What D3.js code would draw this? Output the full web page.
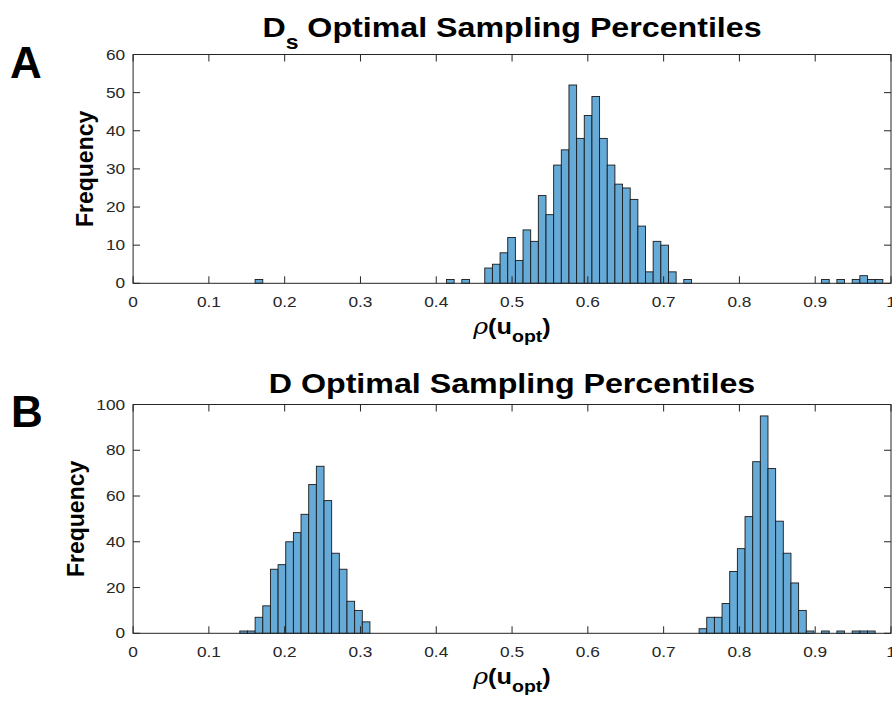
<!DOCTYPE html>
<html>
<head>
<meta charset="utf-8">
<script src="https://cdn.jsdelivr.net/npm/d3@7"></script>
<style>
  body { margin: 0; background: #fff; }
  svg { display: block; font-family: "Liberation Sans", Arial, Helvetica, sans-serif; }
</style>
</head>
<body>
<svg id="svg0" width="892" height="704"></svg>
<script>
// histogram bins (width is the same for both panels)
var binWidth = 0.0101;

// panel A: Ds optimal sampling percentiles
var dsStart = 0.161;
var dsCounts = [1, 0, 0, 0, 0, 0, 0, 0, 0, 0, 0, 0, 0, 0, 0, 0, 0, 0, 0, 0,
  0, 0, 0, 0, 0, 1, 0, 1, 0, 0, 4, 5, 8, 12, 6, 14, 11, 23, 18, 31,
  35, 52, 38, 44, 49, 38, 31, 26, 25, 22, 15, 3, 11, 10, 3, 0, 1, 0, 0, 0,
  0, 0, 0, 0, 0, 0, 0, 0, 0, 0, 0, 0, 0, 0, 1, 0, 1, 0, 1, 2,
  1, 1];

// panel B: D optimal sampling percentiles
var dStart = 0.1408;
var dCounts = [1, 1, 7, 12, 28, 30, 40, 44, 52, 65, 73, 58, 35, 28, 14, 10, 5, 0, 0, 0,
  0, 0, 0, 0, 0, 0, 0, 0, 0, 0, 0, 0, 0, 0, 0, 0, 0, 0, 0, 0,
  0, 0, 0, 0, 0, 0, 0, 0, 0, 0, 0, 0, 0, 0, 0, 0, 0, 0, 0, 0,
  2, 7, 7, 13, 27, 37, 51, 75, 95, 72, 49, 35, 22, 10, 1, 0, 1, 0, 1, 0,
  1, 1, 1];

var xTicks = [0, 0.1, 0.2, 0.3, 0.4, 0.5, 0.6, 0.7, 0.8, 0.9, 1];
var dsYTicks = [0, 10, 20, 30, 40, 50, 60];
var dYTicks = [0, 20, 40, 60, 80, 100];

var axisColor = '#262626';
var barFill = '#66aad7';
var stretch = 1.15;

var svg = d3.select('#svg0');

var x = d3.scaleLinear().domain([0, 1]).range([133.1, 891]);

function txt(g, px, py, s, size, anchor, weight) {
  return g.append('text')
    .attr('transform', 'translate(' + px + ',' + py + ') scale(' + stretch + ',1)')
    .attr('text-anchor', anchor)
    .attr('font-size', size)
    .attr('font-weight', weight || 'normal')
    .attr('fill', axisColor)
    .text(s);
}

function panel(start, counts, yMax, yTicks, top, bottom, ylabX) {
  var y = d3.scaleLinear().domain([0, yMax]).range([bottom, top]);
  var g = svg.append('g');

  var bins = counts.map(function (c, i) {
    return { x0: start + i * binWidth, x1: start + (i + 1) * binWidth, n: c };
  }).filter(function (d) { return d.n > 0; });

  g.selectAll('rect.bar')
    .data(bins)
    .enter()
    .append('rect')
    .attr('class', 'bar')
    .attr('x', function (d) { return x(d.x0); })
    .attr('y', function (d) { return y(d.n); })
    .attr('width', function (d) { return x(d.x1) - x(d.x0); })
    .attr('height', function (d) { return y(0) - y(d.n); })
    .attr('fill', barFill)
    .attr('stroke', '#1a1a1a')
    .attr('stroke-width', 0.9);

  // box
  g.append('rect')
    .attr('x', x(0)).attr('y', y(yMax))
    .attr('width', x(1) - x(0)).attr('height', y(0) - y(yMax))
    .attr('fill', 'none').attr('stroke', axisColor).attr('stroke-width', 1);

  var tl = 7;
  xTicks.forEach(function (t) {
    g.append('line').attr('x1', x(t)).attr('x2', x(t))
      .attr('y1', y(0)).attr('y2', y(0) - tl)
      .attr('stroke', axisColor);
    g.append('line').attr('x1', x(t)).attr('x2', x(t))
      .attr('y1', y(yMax)).attr('y2', y(yMax) + tl)
      .attr('stroke', axisColor);
    txt(g, x(t), y(0) + 24, String(t), 15, 'middle');
  });
  yTicks.forEach(function (t) {
    g.append('line').attr('x1', x(0)).attr('x2', x(0) + tl)
      .attr('y1', y(t)).attr('y2', y(t))
      .attr('stroke', axisColor);
    g.append('line').attr('x1', x(1)).attr('x2', x(1) - tl)
      .attr('y1', y(t)).attr('y2', y(t))
      .attr('stroke', axisColor);
    txt(g, x(0) - 8, y(t) + 5, String(t), 15, 'end');
  });

  // x label
  var xl = g.append('text')
    .attr('transform', 'translate(' + 512 + ',' + (bottom + 51) + ') scale(' + stretch + ',1)')
    .attr('text-anchor', 'middle')
    .attr('font-size', 22)
    .attr('font-weight', 'bold')
    .attr('fill', '#000');
  xl.append('tspan').attr('font-style', 'italic').attr('font-weight', 'normal')
    .attr('font-family', 'DejaVu Serif, serif').text('ρ');
  xl.append('tspan').text('(u');
  xl.append('tspan').attr('font-size', 17).attr('dy', 8).text('opt');
  xl.append('tspan').attr('dy', -8).text(')');

  // y label
  g.append('text')
    .attr('transform', 'translate(' + ylabX + ',' + ((top + bottom) / 2) + ') rotate(-90)')
    .attr('text-anchor', 'middle')
    .attr('font-size', 23)
    .attr('font-weight', 'bold')
    .attr('fill', '#000')
    .text('Frequency');

  return g;
}

panel(dsStart, dsCounts, 60, dsYTicks, 54.5, 283.3, 93);
panel(dStart, dCounts, 100, dYTicks, 404.5, 633.3, 84);

// titles
var t1 = svg.append('text')
  .attr('transform', 'translate(512,37) scale(' + stretch + ',1)')
  .attr('text-anchor', 'middle')
  .attr('font-size', 28)
  .attr('font-weight', 'bold')
  .attr('fill', '#000');
t1.append('tspan').text('D');
t1.append('tspan').attr('font-size', 20).attr('dy', 12).text('s');
t1.append('tspan').attr('dy', -12).text(' Optimal Sampling Percentiles');

svg.append('text')
  .attr('transform', 'translate(512,393) scale(' + stretch + ',1)')
  .attr('text-anchor', 'middle')
  .attr('font-size', 28)
  .attr('font-weight', 'bold')
  .attr('fill', '#000')
  .text('D Optimal Sampling Percentiles');

// panel letters
svg.append('text').attr('x', 10).attr('y', 78)
  .attr('font-size', 44).attr('font-weight', 'bold').attr('fill', '#000').text('A');
svg.append('text').attr('x', 11).attr('y', 427)
  .attr('font-size', 44).attr('font-weight', 'bold').attr('fill', '#000').text('B');
</script>
</body>
</html>
